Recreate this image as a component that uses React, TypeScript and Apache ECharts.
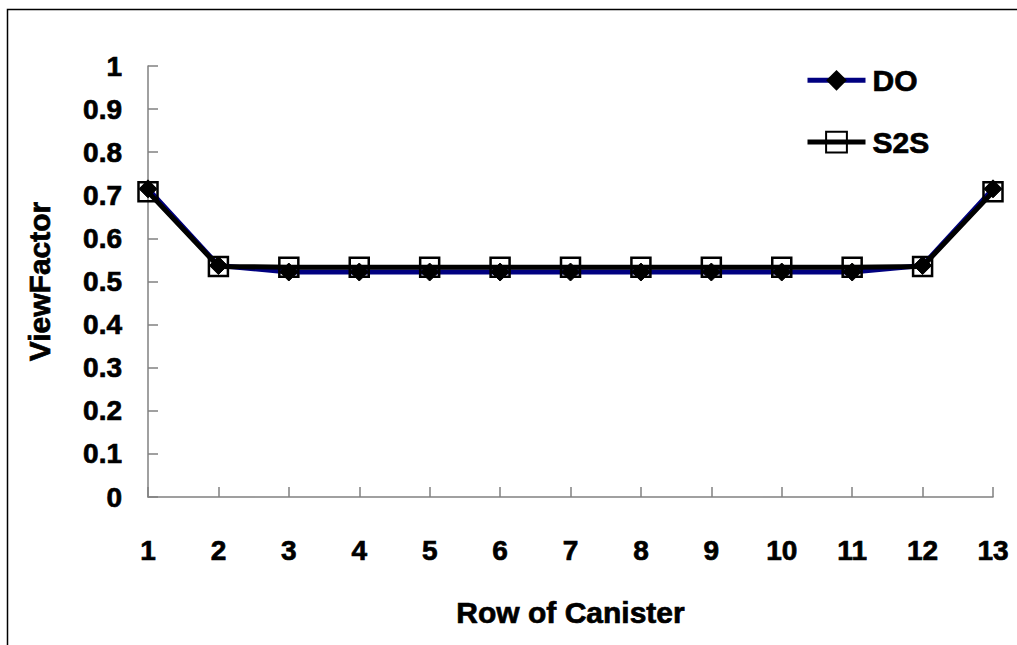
import React, { useEffect, useRef } from "react";
import * as echarts from "echarts";

const categories = ["1", "2", "3", "4", "5", "6", "7", "8", "9", "10", "11", "12", "13"];
const doValues = [0.715, 0.537, 0.522, 0.522, 0.522, 0.522, 0.522, 0.522, 0.522, 0.522, 0.522, 0.537, 0.715];
const s2sValues = [0.708, 0.535, 0.533, 0.533, 0.533, 0.533, 0.533, 0.533, 0.533, 0.533, 0.533, 0.535, 0.708];
const yTicks = { min: 0, max: 1, interval: 0.1 };

const FONT = "'Liberation Sans', Arial, sans-serif";
const heavy = { fontFamily: FONT, fontWeight: "bold", color: "#000", textBorderColor: "#000", textBorderWidth: 0.7 };

export default function App() {
  const ref = useRef<HTMLDivElement>(null);
  useEffect(() => {
    document.body.style.margin = "0";
    const chart = echarts.init(ref.current!, null, { renderer: "svg" });
    chart.setOption({
      animation: false,
      backgroundColor: "#ffffff",
      graphic: [
        {
          type: "rect",
          shape: { x: 7.5, y: 9.5, width: 1100, height: 700 },
          style: { fill: "none", stroke: "#000", lineWidth: 1.5 },
          silent: true,
        },
      ],
      grid: { left: 148, right: 24, top: 66, bottom: 148 },
      legend: {
        orient: "vertical",
        left: 800,
        top: 60,
        itemGap: 31,
        itemWidth: 58,
        itemHeight: 26,
        textStyle: { ...heavy, fontSize: 30, lineHeight: 30, padding: [0, 0, 0, 2] },
        data: [
          { name: "DO", lineStyle: { width: 5, color: "#000080" } },
          { name: "S2S", lineStyle: { width: 5, color: "#000" } },
        ],
      },
      xAxis: {
        type: "category",
        data: categories,
        boundaryGap: false,
        name: "Row of Canister",
        nameLocation: "middle",
        nameGap: 100,
        nameTextStyle: { ...heavy, fontSize: 30 },
        axisLine: { lineStyle: { color: "#808080", width: 1.5 } },
        axisTick: { inside: true, length: 10, lineStyle: { color: "#808080", width: 1.5 } },
        axisLabel: { ...heavy, margin: 39, fontSize: 28 },
        splitLine: { show: false },
      },
      yAxis: {
        type: "value",
        min: yTicks.min,
        max: yTicks.max,
        interval: yTicks.interval,
        name: "ViewFactor",
        nameLocation: "middle",
        nameGap: 94,
        nameTextStyle: { ...heavy, fontSize: 30 },
        axisLine: { show: true, lineStyle: { color: "#808080", width: 1.5 } },
        axisTick: { show: true, inside: true, length: 10, lineStyle: { color: "#808080", width: 1.5 } },
        axisLabel: {
          ...heavy,
          margin: 26,
          fontSize: 28,
          formatter: (v: number) => String(Math.round(v * 10) / 10),
        },
        splitLine: { show: false },
      },
      series: [
        {
          name: "DO",
          type: "line",
          data: doValues,
          symbol: "diamond",
          symbolSize: 18,
          lineStyle: { color: "#000080", width: 5 },
          itemStyle: { color: "#000", borderColor: "#000" },
          z: 2,
        },
        {
          name: "S2S",
          type: "line",
          data: s2sValues,
          symbol: "rect",
          symbolSize: 19,
          lineStyle: { color: "#000", width: 5 },
          itemStyle: { color: "rgba(255,255,255,0)", borderColor: "#000", borderWidth: 2.5 },
          z: 3,
        },
      ],
    });
    return () => chart.dispose();
  }, []);
  return <div ref={ref} style={{ width: 1017, height: 645 }} />;
}
